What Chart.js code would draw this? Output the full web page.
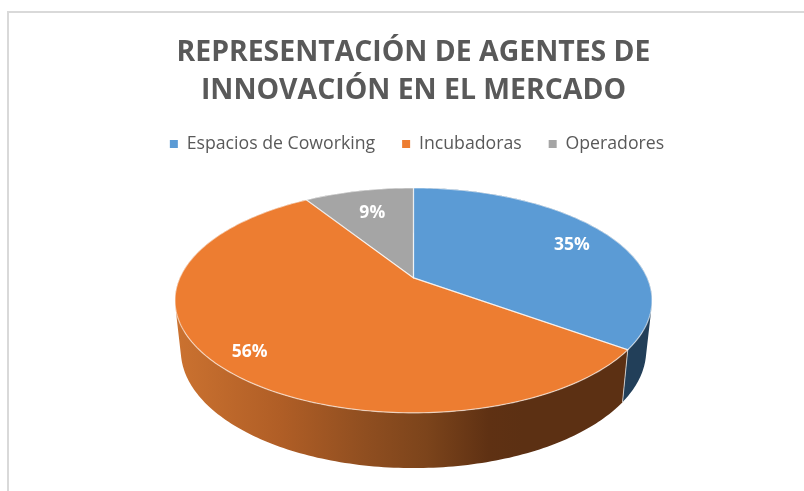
<!DOCTYPE html>
<html><head><meta charset="utf-8">
<script src="https://cdn.jsdelivr.net/npm/chart.js@4/dist/chart.umd.min.js"></script>
<style>html,body{margin:0;padding:0;background:#fff}#w{width:804px;height:491px;position:relative}</style>
</head><body><div id="w"><canvas id="c" width="804" height="491"></canvas></div>
<script>
const categories = ['Espacios de Coworking', 'Incubadoras', 'Operadores'];
const shares = [35, 56, 9];
const colors = ['#5B9BD5', '#ED7D31', '#A5A5A5'];
const titleLines = ['REPRESENTACIÓN DE AGENTES DE', 'INNOVACIÓN EN EL MERCADO'];

const PERSP = 0.2, TOP_Y = 0.462, BOT_X = 0.9756, BOT_Y = 0.4835, DEPTH = 49;
const LABEL_R = [0.8, 0.85, 0.72];
const LABEL_NUDGE = [[3, 4], [0, 3], [0, 1]];

function proj(el, th, r, bottom) {
  const u = Math.sin(th) * r, v = -Math.cos(th) * r, d = 1 - PERSP * v, R = el.outerRadius;
  return bottom
    ? [el.x + R * BOT_X * u / d, el.y + DEPTH + R * BOT_Y * v / d]
    : [el.x + R * u / d, el.y + R * TOP_Y * v / d];
}
function angles(el) {
  return [el.startAngle + Math.PI / 2, el.endAngle + Math.PI / 2];
}
const pie3d = {
  id: 'pie3d',
  afterLayout(chart) {
    const l = chart.legend;
    l.left += 3.5; l.right += 3.5; l.top -= 2; l.bottom -= 2;
  },
  beforeDraw(chart) {
    const c = chart.ctx;
    c.save();
    c.fillStyle = '#fff'; c.fillRect(0, 0, 804, 491);
    c.strokeStyle = '#d9d9d9'; c.lineWidth = 2;
    c.beginPath(); c.moveTo(8, 491); c.lineTo(8, 12); c.lineTo(804, 12); c.stroke();
    c.restore();
  },
  beforeDatasetDraw() { return false; },
  afterDatasetsDraw(chart) {
    const c = chart.ctx, els = chart.getDatasetMeta(0).data, step = Math.PI / 180;
    const first = els[0];
    const orange = c.createLinearGradient(first.x - 238, 0, first.x + 110, 0);
    orange.addColorStop(0, '#cb7230');
    orange.addColorStop(0.3, '#b05e26');
    orange.addColorStop(0.55, '#8f4e20');
    orange.addColorStop(0.72, '#7c441b');
    orange.addColorStop(0.9, '#5f3113');
    orange.addColorStop(1, '#5c3013');
    const sides = ['#223f59', orange, '#636363'];
    c.save();
    // walls, back slices first; every strip wound the same way so the fill is seamless
    [2, 0, 1].forEach(i => {
      const el = els[i], [a, b] = angles(el);
      c.beginPath();
      for (let t = a; t < b - 1e-6; t += step) {
        const e = Math.min(t + step, b);
        let q = [proj(el, t, 1), proj(el, e, 1), proj(el, e, 1, true), proj(el, t, 1, true)];
        let area = 0;
        q.forEach((p, k) => { const n = q[(k + 1) % 4]; area += p[0] * n[1] - n[0] * p[1]; });
        if (area < 0) q = q.reverse();
        c.moveTo(...q[0]); c.lineTo(...q[1]); c.lineTo(...q[2]); c.lineTo(...q[3]); c.closePath();
      }
      c.fillStyle = sides[i]; c.fill('nonzero');
    });
    // light edge between the two visible walls
    const split = angles(els[0])[1];
    c.strokeStyle = 'rgba(225,225,225,0.8)'; c.lineWidth = 1;
    c.beginPath(); c.moveTo(...proj(first, split, 1)); c.lineTo(...proj(first, split, 1, true)); c.stroke();
    // top faces
    els.forEach((el, i) => {
      const [a, b] = angles(el);
      c.beginPath(); c.moveTo(el.x, el.y);
      for (let t = a; t < b; t += step) c.lineTo(...proj(el, t, 1));
      c.lineTo(...proj(el, b, 1)); c.closePath();
      c.fillStyle = colors[i]; c.fill();
    });
    // slice borders
    c.strokeStyle = 'rgba(255,255,255,0.6)'; c.lineWidth = 1.2;
    els.forEach(el => {
      const [a, b] = angles(el);
      c.beginPath(); c.moveTo(el.x, el.y);
      for (let t = a; t < b; t += step) c.lineTo(...proj(el, t, 1));
      c.lineTo(...proj(el, b, 1)); c.closePath(); c.stroke();
    });
    // percentage labels
    const total = shares.reduce((s, v) => s + v, 0);
    c.fillStyle = '#fff'; c.font = 'bold 17.5px "Open Sans"'; c.textAlign = 'center'; c.textBaseline = 'middle';
    els.forEach((el, i) => {
      const [a, b] = angles(el);
      const p = proj(el, (a + b) / 2, LABEL_R[i]);
      c.fillText(Math.round(shares[i] / total * 100) + '%', p[0] + LABEL_NUDGE[i][0], p[1] + LABEL_NUDGE[i][1]);
    });
    c.restore();
  }
};

new Chart(document.getElementById('c'), {
  type: 'pie',
  data: { labels: categories, datasets: [{ data: shares, backgroundColor: colors, borderWidth: 0, radius: 233.7, clip: false }] },
  plugins: [pie3d],
  options: {
    responsive: false, animation: false,
    layout: { padding: { left: 23, top: 34, bottom: 100 } },
    plugins: {
      tooltip: { enabled: false },
      title: { display: true, text: titleLines, color: '#595959',
        font: { family: '"Open Sans"', size: 28.4, weight: 'bold', lineHeight: 1.33 }, padding: { top: 0, bottom: 0.5 } },
      legend: { position: 'top', labels: { color: '#595959', boxWidth: 8, boxHeight: 8, padding: 27,
        font: { family: '"Open Sans"', size: 17.7 } } }
    }
  }
});
</script></body></html>
